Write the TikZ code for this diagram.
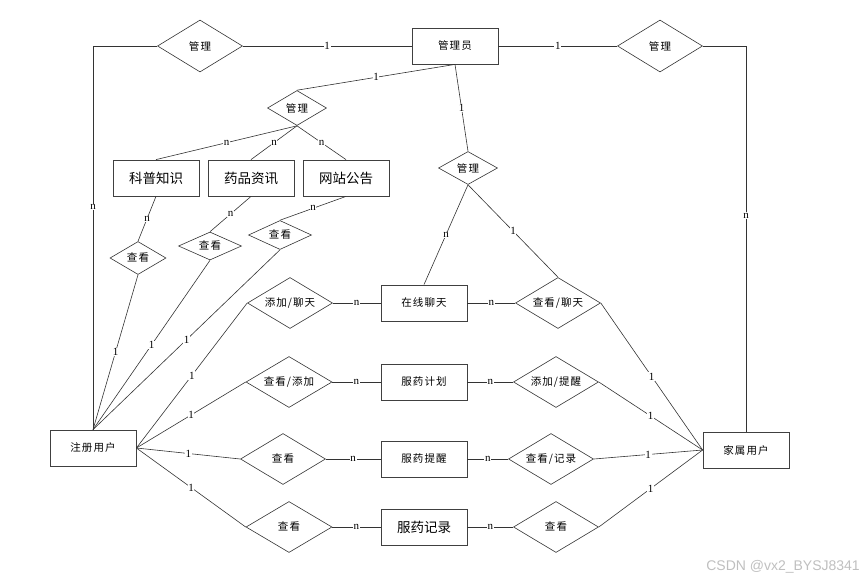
\documentclass[tikz,border=0pt]{standalone}
\usepackage{fontspec}
\setmainfont{Liberation Serif}
\newfontfamily\cjk{Noto Sans CJK SC}
\newfontfamily\cjksp[LetterSpace=10]{Noto Sans CJK SC}
\newfontfamily\wmfont{Liberation Sans}
\usetikzlibrary{shapes.geometric}
\tikzset{
  ent/.style={draw=black!75, line width=0.8pt, minimum width=86pt, minimum height=36pt, inner sep=0pt, font=\cjksp\fontsize{10.5}{12}\selectfont},
  entbig/.style={ent, font=\cjk\fontsize{13.5}{15}\selectfont},
  rel/.style={draw=black!80, line width=0.6pt, shape=diamond, inner sep=0pt},
  reltext/.style={font=\cjksp\fontsize{10.5}{12}\selectfont},
  conn/.style={draw=black!80, line width=0.6pt},
  lbl/.style={fill=white, inner sep=0.6pt, font=\fontsize{11}{12}\selectfont, midway}
}
\newcommand{\relnode}[5]{\node[rel, minimum width=#3pt, minimum height=#4pt] (#1) at #2 {}; \node[reltext] at (#1.center) {#5};}
\begin{document}
\begin{tikzpicture}[x=1pt,y=-1pt]
\useasboundingbox (0,0) rectangle (863,582);
% entities
\node[ent] (admin) at (455,46) {管理员};
\node[ent] (reg) at (93,448) {注册用户};
\node[ent] (fam) at (746,450) {家属用户};
\node[entbig] (kp) at (156,178) {科普知识};
\node[entbig] (yp) at (251,178) {药品资讯};
\node[entbig] (wz) at (346,178) {网站公告};
\node[ent] (chat) at (424,303) {在线聊天};
\node[ent] (plan) at (424,382) {服药计划};
\node[ent] (remind) at (424,459) {服药提醒};
\node[entbig] (record) at (424,527) {服药记录};
% relations
\relnode{mgL}{(200,46)}{85}{52}{管理}
\relnode{mgR}{(660,46)}{85}{52}{管理}
\relnode{mgA}{(297,108)}{59}{35}{管理}
\relnode{mgB}{(468,168)}{59}{33}{管理}
\relnode{ck1}{(138,258)}{56}{33}{查看}
\relnode{ck2}{(210,246)}{63}{28}{查看}
\relnode{ck3}{(280,235)}{63}{29}{查看}
\relnode{rA}{(290,303)}{85}{51}{添加/聊天}
\relnode{rB}{(289,382)}{86}{51}{查看/添加}
\relnode{rC}{(283,459)}{85}{51}{查看}
\relnode{rD}{(289,527)}{86}{51}{查看}
\relnode{sA}{(558,303)}{85}{51}{查看/聊天}
\relnode{sB}{(556,382)}{85}{51}{添加/提醒}
\relnode{sC}{(551,459)}{85}{51}{查看/记录}
\relnode{sD}{(556,527)}{85}{51}{查看}
% top connectors
\draw[conn] (admin.west) -- node[lbl]{1} (mgL.east);
\draw[conn] (mgL.west) -| node[lbl, pos=0.71]{n} (reg.north);
\draw[conn] (admin.east) -- node[lbl]{1} (mgR.west);
\draw[conn] (mgR.east) -| node[lbl, pos=0.72]{n} (fam.north);
\draw[conn] (admin.south) -- node[lbl]{1} (mgA.north);
\draw[conn] (mgA.south) -- node[lbl]{n} (kp.north);
\draw[conn] (mgA.south) -- node[lbl]{n} (yp.north);
\draw[conn] (mgA.south) -- node[lbl]{n} (wz.north);
\draw[conn] (kp.south) -- node[lbl]{n} (ck1.north);
\draw[conn] (yp.south) -- node[lbl]{n} (ck2.north);
\draw[conn] (wz.south) -- node[lbl]{n} (ck3.north);
\draw[conn] (ck1.south) -- node[lbl]{1} (reg.north);
\draw[conn] (ck2.south) -- node[lbl]{1} (reg.north);
\draw[conn] (ck3.south) -- node[lbl]{1} (reg.north);
\draw[conn] (admin.south) -- node[lbl]{1} (mgB.north);
\draw[conn] (mgB.south) -- node[lbl]{n} (chat.north);
\draw[conn] (mgB.south) -- node[lbl]{1} (sA.north);
% left fan
\draw[conn] (reg.east) -- node[lbl]{1} (rA.west);
\draw[conn] (reg.east) -- node[lbl]{1} (rB.west);
\draw[conn] (reg.east) -- node[lbl]{1} (rC.west);
\draw[conn] (reg.east) -- node[lbl]{1} (rD.west);
\draw[conn] (rA.east) -- node[lbl]{n} (chat.west);
\draw[conn] (rB.east) -- node[lbl]{n} (plan.west);
\draw[conn] (rC.east) -- node[lbl]{n} (remind.west);
\draw[conn] (rD.east) -- node[lbl]{n} (record.west);
% right side
\draw[conn] (chat.east) -- node[lbl]{n} (sA.west);
\draw[conn] (plan.east) -- node[lbl]{n} (sB.west);
\draw[conn] (remind.east) -- node[lbl]{n} (sC.west);
\draw[conn] (record.east) -- node[lbl]{n} (sD.west);
\draw[conn] (sA.east) -- node[lbl]{1} (fam.west);
\draw[conn] (sB.east) -- node[lbl]{1} (fam.west);
\draw[conn] (sC.east) -- node[lbl]{1} (fam.west);
\draw[conn] (sD.east) -- node[lbl]{1} (fam.west);
% watermark
\node[anchor=east, text=black!25, font=\wmfont\fontsize{14}{15}\selectfont, inner sep=0pt] (wm) at (860,567) {CSDN @vx2\_BYSJ8341};
\end{tikzpicture}
\end{document}
